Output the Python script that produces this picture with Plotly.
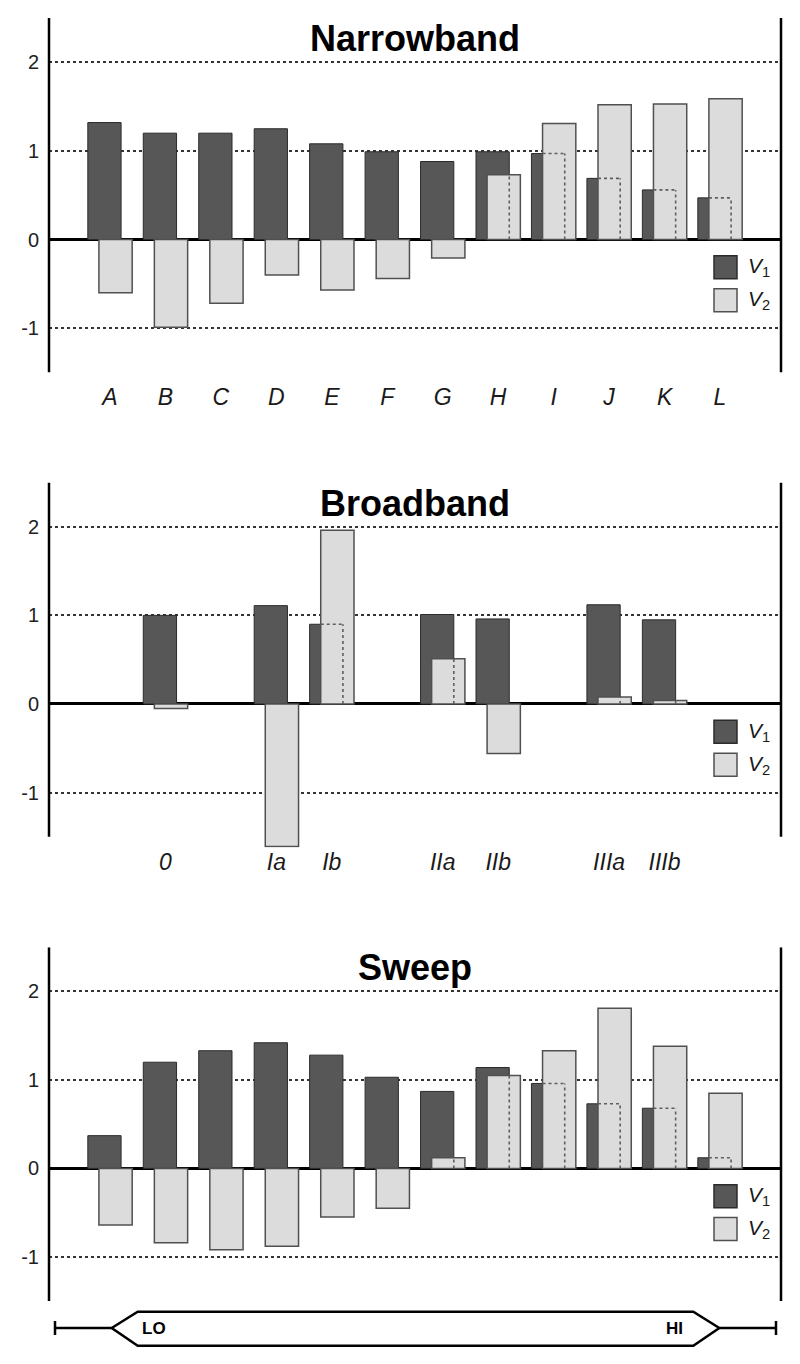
import plotly.graph_objects as go

# ---------------- data ----------------
nb_labels = ["A", "B", "C", "D", "E", "F", "G", "H", "I", "J", "K", "L"]
nb_pos = [0, 1, 2, 3, 4, 5, 6, 7, 8, 9, 10, 11]
nb_v1 = [1.32, 1.20, 1.20, 1.25, 1.08, 0.99, 0.88, 0.99, 0.97, 0.69, 0.56, 0.47]
nb_v2 = [-0.60, -0.99, -0.72, -0.40, -0.57, -0.44, -0.21, 0.73, 1.31, 1.52, 1.53, 1.59]

bb_labels = ["0", "Ia", "Ib", "IIa", "IIb", "IIIa", "IIIb"]
bb_pos = [1, 3, 4, 6, 7, 9, 10]
bb_v1 = [1.00, 1.11, 0.90, 1.01, 0.96, 1.12, 0.95]
bb_v2 = [-0.05, -1.61, 1.96, 0.51, -0.56, 0.08, 0.04]

sw_pos = [0, 1, 2, 3, 4, 5, 6, 7, 8, 9, 10, 11]
sw_v1 = [0.37, 1.20, 1.33, 1.42, 1.28, 1.03, 0.87, 1.14, 0.96, 0.73, 0.68, 0.12]
sw_v2 = [-0.64, -0.84, -0.92, -0.88, -0.55, -0.45, 0.12, 1.05, 1.33, 1.81, 1.38, 0.85]

y_ticks = [-1, 0, 1, 2]
y_ticktext = ["-1", "0", "1", "2"]
titles = ["Narrowband", "Broadband", "Sweep"]

# ---------------- layout helpers ----------------
PAGE_OFF = 8            # default body margin of the html page
W, H = 800 - PAGE_OFF, 1364 - PAGE_OFF
FONT = "Liberation Sans, Arial, sans-serif"
DARK, DARK_LINE = "#575757", "#2b2b2b"
LIGHT, LIGHT_LINE = "#dcdcdc", "#505050"
BW, OFF1, OFF2 = 0.6, -0.4, -0.2


def px(x):
    return (x - PAGE_OFF) / W


def py(y):
    return 1 - (y - PAGE_OFF) / H


X_DOMAIN = [px(49), px(781)]
X_RANGE = [-1.1, 12.1]
# (top px, bottom px, y range)
panels = [
    (18.0, 372.4, [-1.5, 2.5]),
    (482.5, 847.5, [-1.62, 2.5]),
    (947.2, 1301.1, [-1.5, 2.5]),
]

fig = go.Figure()
datasets = [(nb_pos, nb_v1, nb_v2), (bb_pos, bb_v1, bb_v2), (sw_pos, sw_v1, sw_v2)]

shapes = []
annotations = []

for i, (pos, v1, v2) in enumerate(datasets):
    n = "" if i == 0 else str(i + 1)
    xa, ya = "x" + n, "y" + n
    fig.add_trace(go.Bar(
        x=pos, y=v1, width=BW, offset=OFF1, xaxis=xa, yaxis=ya,
        marker=dict(color=DARK, line=dict(color=DARK_LINE, width=1)),
        showlegend=False, name="V1"))
    fig.add_trace(go.Bar(
        x=pos, y=v2, width=BW, offset=OFF2, xaxis=xa, yaxis=ya,
        marker=dict(color=LIGHT, line=dict(color=LIGHT_LINE, width=1.5)),
        showlegend=False, name="V2"))
    # dotted outline of the v1 bar where it is hidden by the v2 bar
    lx, ly = [], []
    for p, a, b in zip(pos, v1, v2):
        if a > 0 and b > 0:
            lx += [p + OFF1 + BW, p + OFF1 + BW, None]
            ly += [0, min(a, b), None]
            if a < b:
                lx += [p + OFF2, p + OFF1 + BW, None]
                ly += [a, a, None]
    fig.add_trace(go.Scatter(
        x=lx, y=ly, mode="lines", xaxis=xa, yaxis=ya, showlegend=False,
        line=dict(color="#5e5e5e", width=1.6, dash="dot"), hoverinfo="skip"))

    top, bot, yr = panels[i]
    dom = [py(bot), py(top)]
    xkey = "xaxis" + n
    ykey = "yaxis" + n
    if i == 0:
        tv, tt = nb_pos, nb_labels
    elif i == 1:
        tv, tt = bb_pos, bb_labels
    else:
        tv, tt = [], []
    fig.update_layout(**{
        xkey: dict(domain=X_DOMAIN, range=X_RANGE, anchor=ya, showgrid=False,
                   zeroline=False, showline=False, ticks="",
                   tickvals=tv, ticktext=tt, showticklabels=(i < 2),
                   tickfont=dict(family=FONT, size=23, color="#1a1a1a", style="italic"),
                   ticklabelstandoff=(9 if i == 0 else -2), fixedrange=True),
        ykey: dict(domain=dom, range=yr, anchor=xa, showgrid=True,
                   gridcolor="#333333", griddash="dot", gridwidth=1.6,
                   zeroline=True, zerolinecolor="#000000", zerolinewidth=3,
                   showline=False, ticks="", tickvals=y_ticks, ticktext=y_ticktext,
                   tickfont=dict(family=FONT, size=20, color="#222222"),
                   ticklabelstandoff=9, fixedrange=True),
    })
    # vertical axis lines (left and right)
    for xd in (0, 1):
        shapes.append(dict(type="line", xref=xa + " domain", yref=ya,
                           x0=xd, x1=xd, y0=-1.5, y1=2.5,
                           line=dict(color="#000000", width=2.5)))
    # title
    annotations.append(dict(text="<b>%s</b>" % titles[i], xref="paper", yref=ya,
                            x=px(415), y=2.265, xanchor="center", yanchor="middle",
                            showarrow=False,
                            font=dict(family=FONT, size=36, color="#000000")))
    # legend (manual)
    for k, (fc, lc, sub) in enumerate([(DARK, DARK_LINE, "1"), (LIGHT, LIGHT_LINE, "2")]):
        y0 = -0.184 - k * 0.372
        shapes.append(dict(type="rect", xref="paper", yref=ya,
                           x0=px(714), x1=px(737), y0=y0, y1=y0 - 0.26,
                           fillcolor=fc, line=dict(color=lc, width=1.5)))
        annotations.append(dict(text="<i>V</i><sub>%s</sub>" % sub, xref="paper", yref=ya,
                                x=px(746), y=y0 - 0.13, xanchor="left", yanchor="middle",
                                showarrow=False,
                                font=dict(family=FONT, size=21, color="#1a1a1a")))

# LO / HI range indicator
yc, yt, yb = 1328.0, 1311.7, 1345.7
lw = dict(color="#000000", width=2.5)
path = "M {},{} L {},{} L {},{} L {},{} L {},{} L {},{} Z".format(
    px(111.7), py(yc), px(137.7), py(yt), px(693.3), py(yt),
    px(719.3), py(yc), px(693.3), py(yb), px(137.7), py(yb))
shapes.append(dict(type="path", xref="paper", yref="paper", path=path, line=lw,
                   fillcolor="rgba(0,0,0,0)"))
shapes.append(dict(type="line", xref="paper", yref="paper", x0=px(55), x1=px(111.7),
                   y0=py(yc), y1=py(yc), line=lw))
shapes.append(dict(type="line", xref="paper", yref="paper", x0=px(719.3), x1=px(776),
                   y0=py(yc), y1=py(yc), line=lw))
for xx in (55, 776):
    shapes.append(dict(type="line", xref="paper", yref="paper", x0=px(xx), x1=px(xx),
                       y0=py(yc - 7), y1=py(yc + 7), line=lw))
for txt, xx in (("LO", 154), ("HI", 674)):
    annotations.append(dict(text="<b>%s</b>" % txt, xref="paper", yref="paper",
                            x=px(xx), y=py(yc), xanchor="center", yanchor="middle",
                            showarrow=False,
                            font=dict(family=FONT, size=17, color="#000000")))

fig.update_layout(
    width=W, height=H, margin=dict(l=0, r=0, t=0, b=0),
    paper_bgcolor="white", plot_bgcolor="rgba(0,0,0,0)",
    barmode="overlay", showlegend=False,
    shapes=shapes, annotations=annotations,
    font=dict(family=FONT),
)

fig.write_html("out.html")
